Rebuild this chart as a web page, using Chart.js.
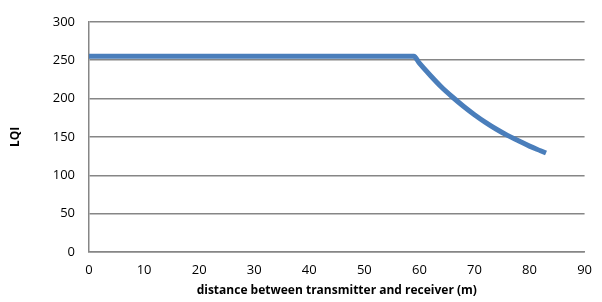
<!DOCTYPE html>
<html>
<head>
<meta charset="utf-8">
<script src="https://cdn.jsdelivr.net/npm/chart.js@4"></script>
<style>
  body { margin: 0; background: #fff; }
  #chart { display: block; }
</style>
</head>
<body>
<canvas id="chart" width="602" height="302"></canvas>
<script>
// distance (m) and LQI
const distance = [0, 10, 20, 30, 40, 50, 59, 60, 62, 64, 66, 68, 70, 72, 74, 76, 78, 80, 82, 83];
const lqi = [255, 255, 255, 255, 255, 255, 255, 246, 230, 215, 202, 190, 179, 169, 160, 152, 145, 138, 132, 129];

const xTitle = 'distance between transmitter and receiver (m)';
const yTitle = 'LQI';

const points = distance.map((d, i) => ({ x: d, y: lqi[i] }));
const gridColor = '#868686';
const font = "'Open Sans', sans-serif";

new Chart(document.getElementById('chart').getContext('2d'), {
    type: 'line',
    data: {
        datasets: [{
            data: points,
            borderColor: '#4a7ebb',
            borderWidth: 5,
            pointRadius: 0,
            fill: false,
            cubicInterpolationMode: 'monotone'
        }]
    },
    options: {
        responsive: false,
        animation: false,
        layout: { padding: { top: 16, right: 13, bottom: 0, left: 0 } },
        plugins: { legend: { display: false }, tooltip: { enabled: false } },
        scales: {
            x: {
                type: 'linear',
                min: 0,
                max: 90,
                grid: { display: false, drawTicks: false },
                border: { display: true, color: gridColor, width: 1.5 },
                ticks: { stepSize: 10, padding: 10, color: '#000', font: { family: font, size: 13 } },
                title: { display: true, text: xTitle, color: '#000', padding: { top: 0, bottom: 4 }, font: { family: font, size: 12, weight: 'bold' } },
                afterFit: (s) => { s.height = 50; }
            },
            y: {
                min: 0,
                max: 300,
                grid: { color: gridColor, lineWidth: 1.5, drawTicks: false },
                border: { display: true, color: gridColor, width: 1.5 },
                ticks: { stepSize: 50, padding: 14, color: '#000', font: { family: font, size: 13 } },
                title: { display: true, text: yTitle, color: '#000', padding: { top: 8, bottom: 0 }, font: { family: font, size: 12, weight: 'bold' } },
                afterFit: (s) => { s.width = 89; }
            }
        }
    }
});
</script>
</body>
</html>
